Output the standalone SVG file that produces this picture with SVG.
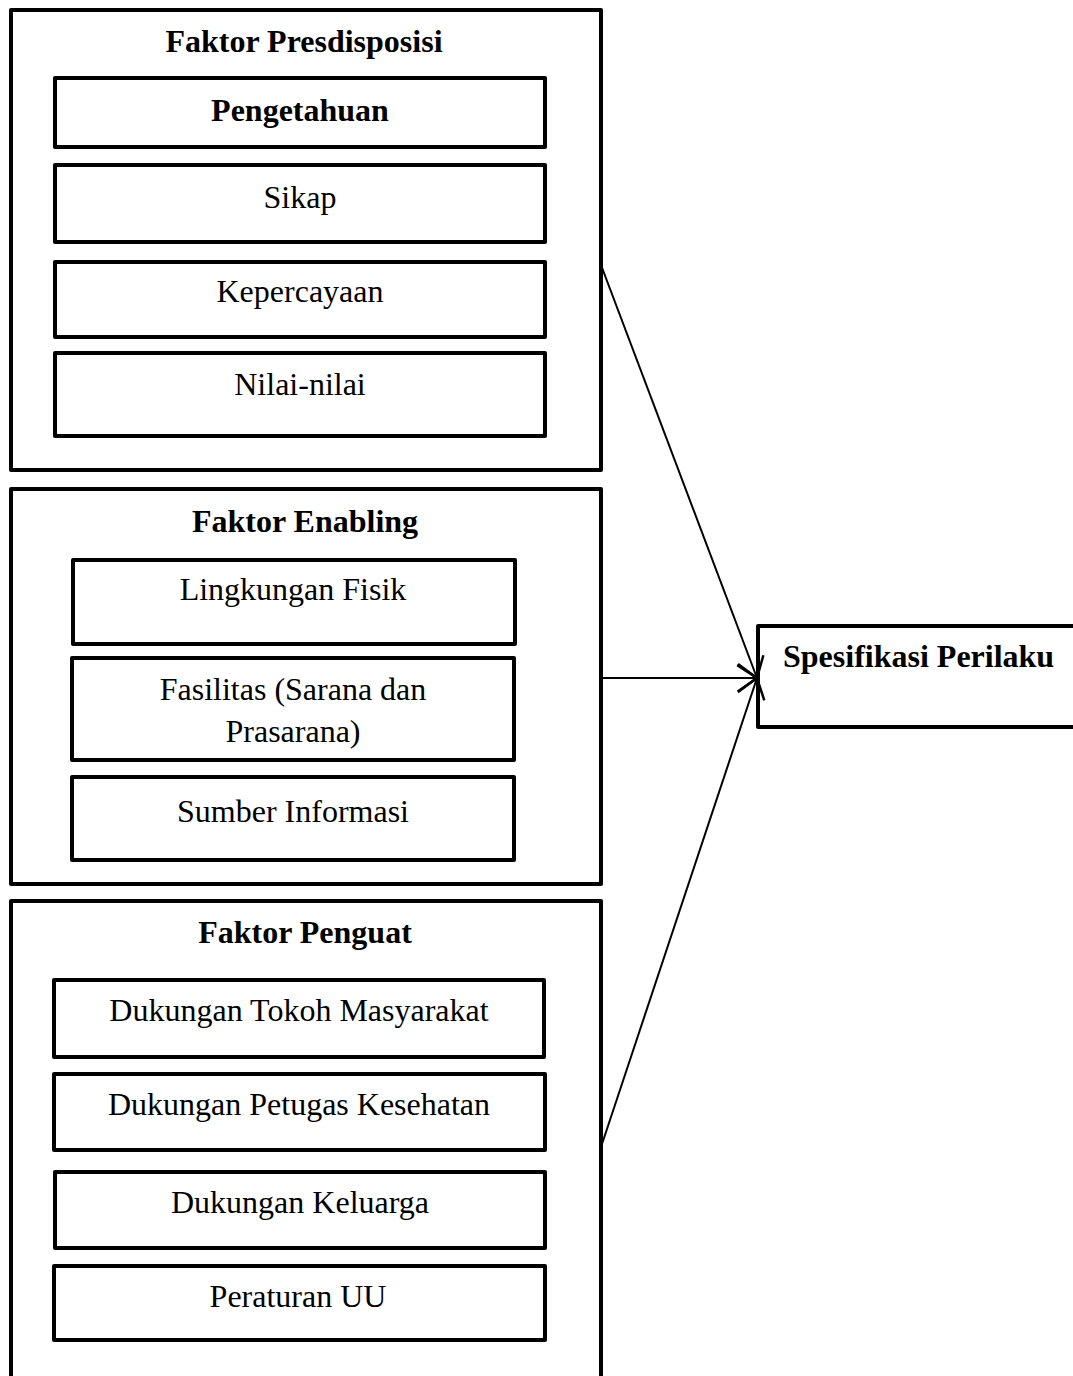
<svg xmlns="http://www.w3.org/2000/svg" width="1073" height="1376" viewBox="0 0 1073 1376">
<style>
  .box { fill: #ffffff; stroke: #000000; stroke-width: 4; stroke-linejoin: round; }
  .t { font-family: "Liberation Serif", "Times New Roman", serif; font-size: 32px; fill: #000000; text-anchor: middle; }
  .b { font-weight: bold; }
  .conn { stroke: #000000; stroke-width: 2; fill: none; }
</style>
<defs>
  <marker id="arrow" markerUnits="userSpaceOnUse" viewBox="-22 -16 24 32" refX="0" refY="0" markerWidth="24" markerHeight="32" orient="auto" overflow="visible">
    <path d="M-19,-14 L0,0 L-19,14" fill="none" stroke="#000000" stroke-width="2.5"/>
  </marker>
</defs>
<rect width="1073" height="1376" fill="#ffffff"/>

<g id="faktor-presdisposisi">
  <rect class="box" x="11" y="10" width="590" height="460"/>
  <text class="t b" x="304" y="52">Faktor Presdisposisi</text>
</g>
<g id="pengetahuan">
  <rect class="box" x="55" y="78" width="490" height="69"/>
  <text class="t b" x="300" y="121">Pengetahuan</text>
</g>
<g id="sikap">
  <rect class="box" x="55" y="165" width="490" height="77"/>
  <text class="t" x="300" y="208">Sikap</text>
</g>
<g id="kepercayaan">
  <rect class="box" x="55" y="262" width="490" height="75"/>
  <text class="t" x="300" y="302">Kepercayaan</text>
</g>
<g id="nilai-nilai">
  <rect class="box" x="55" y="353" width="490" height="83"/>
  <text class="t" x="300" y="395">Nilai-nilai</text>
</g>

<g id="faktor-enabling">
  <rect class="box" x="11" y="489" width="590" height="395"/>
  <text class="t b" x="305" y="532">Faktor Enabling</text>
</g>
<g id="lingkungan-fisik">
  <rect class="box" x="73" y="560" width="442" height="84"/>
  <text class="t" x="293" y="600">Lingkungan Fisik</text>
</g>
<g id="fasilitas">
  <rect class="box" x="72" y="658" width="442" height="102"/>
  <text class="t" x="293" y="700">Fasilitas (Sarana dan</text>
  <text class="t" x="293" y="742">Prasarana)</text>
</g>
<g id="sumber-informasi">
  <rect class="box" x="72" y="777" width="442" height="83"/>
  <text class="t" x="293" y="822">Sumber Informasi</text>
</g>

<g id="faktor-penguat">
  <rect class="box" x="11" y="901" width="590" height="520"/>
  <text class="t b" x="305" y="943">Faktor Penguat</text>
</g>
<g id="dukungan-tokoh">
  <rect class="box" x="54" y="980" width="490" height="77"/>
  <text class="t" x="299" y="1021">Dukungan Tokoh Masyarakat</text>
</g>
<g id="dukungan-petugas">
  <rect class="box" x="54" y="1074" width="491" height="76"/>
  <text class="t" x="299" y="1115">Dukungan Petugas Kesehatan</text>
</g>
<g id="dukungan-keluarga">
  <rect class="box" x="55" y="1172" width="490" height="76"/>
  <text class="t" x="300" y="1213">Dukungan Keluarga</text>
</g>
<g id="peraturan-uu">
  <rect class="box" x="54" y="1266" width="491" height="74"/>
  <text class="t" x="298" y="1307">Peraturan UU</text>
</g>

<g id="spesifikasi-perilaku">
  <rect class="box" x="758" y="626" width="340" height="101"/>
  <text class="t b" x="783" y="667" style="text-anchor:start">Spesifikasi Perilaku</text>
</g>

<g id="connectors">
  <line class="conn" x1="601" y1="265" x2="757" y2="678" marker-end="url(#arrow)"/>
  <line class="conn" x1="601" y1="678" x2="757" y2="678" marker-end="url(#arrow)"/>
  <line class="conn" x1="601" y1="1147" x2="757" y2="678" marker-end="url(#arrow)"/>
</g>
</svg>
